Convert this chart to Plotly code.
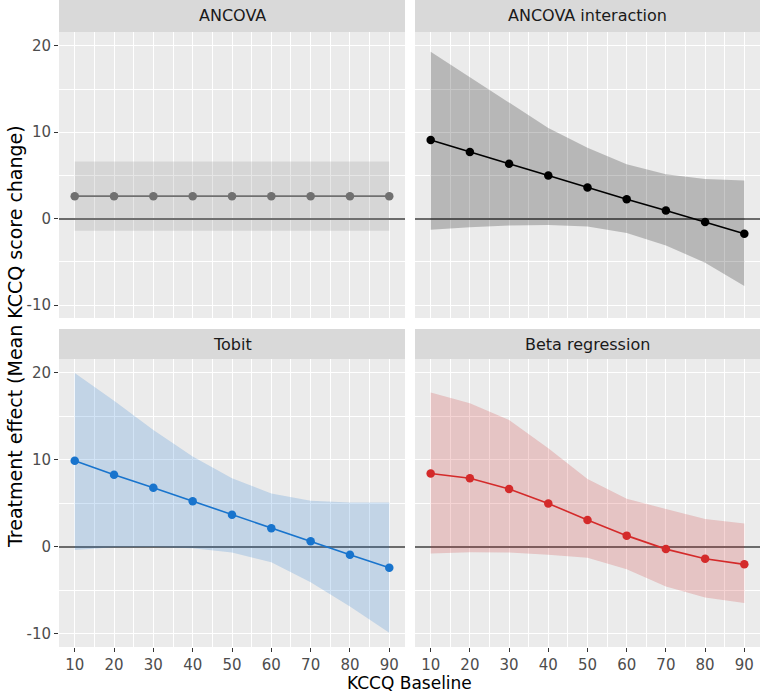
import plotly.graph_objects as go

# ---------------- data ----------------
baseline = [10, 20, 30, 40, 50, 60, 70, 80, 90]
panel_titles = ["ANCOVA", "ANCOVA interaction", "Tobit", "Beta regression"]

ancova_est = [2.6, 2.6, 2.6, 2.6, 2.6, 2.6, 2.6, 2.6, 2.6]
ancova_lo = [-1.4, -1.4, -1.4, -1.4, -1.4, -1.4, -1.4, -1.4, -1.4]
ancova_hi = [6.6, 6.6, 6.6, 6.6, 6.6, 6.6, 6.6, 6.6, 6.6]

inter_est = [9.1, 7.7, 6.35, 5.0, 3.6, 2.25, 0.95, -0.4, -1.75]
inter_lo = [-1.3, -1.0, -0.8, -0.75, -0.9, -1.65, -3.1, -5.1, -7.8]
inter_hi = [19.3, 16.4, 13.5, 10.5, 8.2, 6.3, 5.15, 4.6, 4.4]

tobit_est = [9.9, 8.3, 6.8, 5.25, 3.7, 2.15, 0.65, -0.9, -2.4]
tobit_lo = [-0.35, -0.05, 0.0, -0.15, -0.65, -1.75, -4.05, -6.85, -9.85]
tobit_hi = [20.0, 16.8, 13.45, 10.4, 7.9, 6.15, 5.3, 5.1, 5.1]

beta_est = [8.45, 7.9, 6.65, 5.0, 3.1, 1.3, -0.25, -1.35, -2.0]
beta_lo = [-0.75, -0.6, -0.65, -0.9, -1.25, -2.55, -4.55, -5.8, -6.45]
beta_hi = [17.75, 16.5, 14.6, 11.35, 7.8, 5.55, 4.35, 3.2, 2.7]

x_ticks = [10, 20, 30, 40, 50, 60, 70, 80, 90]
x_minor = [15, 25, 35, 45, 55, 65, 75, 85]
y_ticks = [-10, 0, 10, 20]
y_ticklabels = ["-10", "0", "10", "20"]
y_minor = [-5, 5, 15]

series = [
    (ancova_est, ancova_lo, ancova_hi, "#707070", "rgba(128,128,128,0.2)"),
    (inter_est, inter_lo, inter_hi, "#000000", "rgba(0,0,0,0.22)"),
    (tobit_est, tobit_lo, tobit_hi, "#1874CD", "rgba(30,118,208,0.2)"),
    (beta_est, beta_lo, beta_hi, "#D42A2A", "rgba(205,38,38,0.2)"),
]

# ---------------- layout geometry ----------------
W, H = 762, 695
ML, MR, MT, MB = 59, 2, 0, 48
pw = W - ML - MR
ph = H - MT - MB


def px_x(p):
    return (p - ML) / pw


def px_y(p):
    return (H - MB - p) / ph


x_domains = [[0, px_x(405)], [px_x(415), 1.0]]
y_domains = [[px_y(318), px_y(32)], [0.0, px_y(359)]]
strip_y = [[px_y(32), px_y(0)], [px_y(359), px_y(329)]]

fig = go.Figure()
shapes = []
annotations = []

for i, (est, lo, hi, col, fillc) in enumerate(series):
    r, c = divmod(i, 2)
    ax = "" if i == 0 else str(i + 1)
    xr, yr = "x" + ax, "y" + ax
    fig.add_trace(go.Scatter(
        x=baseline + baseline[::-1], y=hi + lo[::-1],
        fill="toself", fillcolor=fillc, line=dict(width=0),
        mode="lines", hoverinfo="skip", showlegend=False,
        xaxis=xr, yaxis=yr))
    fig.add_trace(go.Scatter(
        x=baseline, y=est, mode="lines+markers",
        line=dict(color=col, width=1.6),
        marker=dict(color=col, size=8.5),
        showlegend=False, xaxis=xr, yaxis=yr))

    common_x = dict(
        domain=x_domains[c], range=[6, 94], anchor=yr,
        tickmode="array", tickvals=x_ticks,
        showgrid=True, gridcolor="white", gridwidth=1.2,
        minor=dict(showgrid=True, gridcolor="white", gridwidth=0.6,
                   tickmode="array", tickvals=x_minor),
        zeroline=False, showline=False,
        tickfont=dict(family="DejaVu Sans", size=15, color="#4d4d4d"),
    )
    if r == 1:
        common_x.update(ticks="outside", ticklen=4, tickcolor="#333333",
                        tickwidth=1, showticklabels=True)
    else:
        common_x.update(ticks="", showticklabels=False)

    # the horizontal reference line at 0 is the y axis zero line
    common_y = dict(
        domain=y_domains[r], range=[-11.5, 21.6], anchor=xr,
        tickmode="array", tickvals=y_ticks, ticktext=y_ticklabels,
        showgrid=True, gridcolor="white", gridwidth=1.2,
        minor=dict(showgrid=True, gridcolor="white", gridwidth=0.6,
                   tickmode="array", tickvals=y_minor),
        zeroline=True, zerolinecolor="#6b6b6b", zerolinewidth=1.6,
        showline=False,
        tickfont=dict(family="DejaVu Sans", size=15, color="#4d4d4d"),
    )
    if c == 0:
        common_y.update(ticks="outside", ticklen=4, tickcolor="#333333",
                        tickwidth=1, showticklabels=True)
    else:
        common_y.update(ticks="", showticklabels=False)

    fig.update_layout(**{"xaxis" + ax: common_x, "yaxis" + ax: common_y})

    # facet strip
    shapes.append(dict(type="rect", xref="paper", yref="paper",
                       x0=x_domains[c][0], x1=x_domains[c][1],
                       y0=strip_y[r][0], y1=strip_y[r][1],
                       fillcolor="#d9d9d9", line=dict(width=0), layer="above"))
    annotations.append(dict(xref="paper", yref="paper",
                            x=(x_domains[c][0] + x_domains[c][1]) / 2,
                            y=(strip_y[r][0] + strip_y[r][1]) / 2,
                            text=panel_titles[i], showarrow=False,
                            font=dict(family="DejaVu Sans", size=16, color="#1a1a1a"),
                            xanchor="center", yanchor="middle"))

# axis titles
annotations.append(dict(xref="paper", yref="paper", x=0.5, y=-(683 - (H - MB)) / ph,
                        text="KCCQ Baseline", showarrow=False,
                        font=dict(family="DejaVu Sans", size=17, color="#000000"),
                        xanchor="center", yanchor="middle"))
annotations.append(dict(xref="paper", yref="paper", x=-(ML - 15) / pw, y=px_y(337),
                        text="Treatment effect (Mean KCCQ score change)", showarrow=False,
                        textangle=-90,
                        font=dict(family="DejaVu Sans", size=19, color="#000000"),
                        xanchor="center", yanchor="middle"))

fig.update_layout(
    width=W, height=H,
    margin=dict(l=ML, r=MR, t=MT, b=MB),
    paper_bgcolor="white", plot_bgcolor="#ebebeb",
    showlegend=False,
    font=dict(family="DejaVu Sans"),
    shapes=shapes,
    annotations=annotations,
)

fig.write_html("out.html")
